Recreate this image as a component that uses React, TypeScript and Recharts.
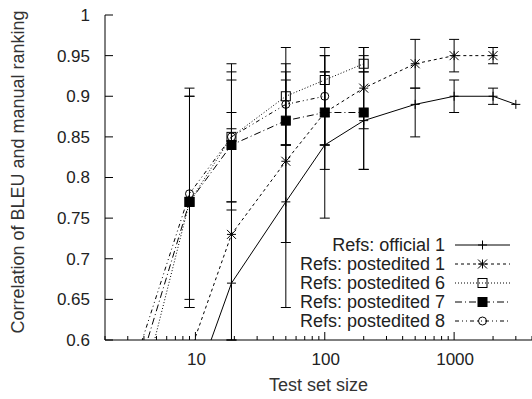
import React from 'react';
import { ComposedChart, ErrorBar, Legend, Line, XAxis, YAxis } from 'recharts';

// test set sizes (x, log scale)
const sizes = [3, 9, 19, 50, 100, 200, 500, 1000, 2000, 3000];

const official1 = [null, 0.526, 0.67, 0.77, 0.84, 0.87, 0.89, 0.9, 0.9, 0.89];
const official1Low = [null, null, 0.45, 0.64, 0.75, 0.81, 0.85, 0.88, 0.89, null];
const official1High = [null, null, 0.86, 0.84, 0.93, 0.93, 0.91, 0.92, 0.91, null];

const postedited1 = [null, 0.583, 0.73, 0.82, 0.88, 0.91, 0.94, 0.95, 0.95, null];
const postedited1Low = [null, null, 0.55, 0.72, 0.81, 0.86, 0.91, 0.93, 0.94, null];
const postedited1High = [null, null, 0.88, 0.92, 0.95, 0.96, 0.97, 0.97, 0.96, null];

const postedited6 = [0.47, 0.77, 0.85, 0.9, 0.92, 0.94, null, null, null, null];
const postedited6Low = [null, 0.64, 0.76, 0.84, 0.88, 0.93, null, null, null, null];
const postedited6High = [null, 0.9, 0.94, 0.96, 0.96, 0.96, null, null, null, null];

const postedited7 = [0.52, 0.77, 0.84, 0.87, 0.88, 0.88, null, null, null, null];
const postedited7Low = [null, 0.64, 0.77, 0.84, 0.84, 0.81, null, null, null, null];
const postedited7High = [null, 0.9, 0.92, 0.93, 0.93, 0.95, null, null, null, null];

const postedited8 = [0.545, 0.78, 0.85, 0.89, 0.9, null, null, null, null, null];
const postedited8Low = [null, 0.65, 0.77, 0.84, 0.84, null, null, null, null, null];
const postedited8High = [null, 0.91, 0.93, 0.94, 0.95, null, null, null, null, null];

const xMajorTicks = [10, 100, 1000];
const xTicks = [
  2, 3, 4, 5, 6, 7, 8, 9, 10, 20, 30, 40, 50, 60, 70, 80, 90, 100, 200, 300, 400, 500, 600, 700, 800, 900,
  1000, 2000, 3000, 4000,
];
const yTicks = [0.6, 0.65, 0.7, 0.75, 0.8, 0.85, 0.9, 0.95, 1];
const yMin = 0.6;

const FONT = '"Liberation Sans", Arial, Helvetica, sans-serif';

type MarkerKind = 'plus' | 'star' | 'box' | 'fbox' | 'circle';

const series: { key: string; name: string; values: (number | null)[]; low: (number | null)[]; high: (number | null)[]; dash?: string; marker: MarkerKind }[] = [
  { key: 'official1', name: 'Refs: official 1', values: official1, low: official1Low, high: official1High, marker: 'plus' },
  { key: 'postedited1', name: 'Refs: postedited 1', values: postedited1, low: postedited1Low, high: postedited1High, dash: '3 3', marker: 'star' },
  { key: 'postedited6', name: 'Refs: postedited 6', values: postedited6, low: postedited6Low, high: postedited6High, dash: '1 2', marker: 'box' },
  { key: 'postedited7', name: 'Refs: postedited 7', values: postedited7, low: postedited7Low, high: postedited7High, dash: '7 3 1 3', marker: 'fbox' },
  { key: 'postedited8', name: 'Refs: postedited 8', values: postedited8, low: postedited8Low, high: postedited8High, dash: '4 3 1 3 1 3', marker: 'circle' },
];

// error bars are not clipped by the chart, so cut them at the bottom of the plot
const rows = sizes.map((size, i) => {
  const row: Record<string, any> = { size };
  series.forEach((s) => {
    const v = s.values[i];
    const lo = s.low[i];
    const hi = s.high[i];
    row[s.key] = v;
    row[s.key + 'Err'] = v != null && lo != null && hi != null ? [v - Math.max(lo, yMin), hi - v] : null;
  });
  return row;
});

function Marker({ kind, cx, cy }: { kind: MarkerKind; cx: number; cy: number }) {
  const s = 4.5;
  if (kind === 'plus') {
    return <path d={`M${cx - s},${cy}H${cx + s}M${cx},${cy - s}V${cy + s}`} stroke="#000" strokeWidth={1} fill="none" />;
  }
  if (kind === 'star') {
    return (
      <path
        d={`M${cx - s},${cy}H${cx + s}M${cx},${cy - s}V${cy + s}M${cx - s},${cy - s}L${cx + s},${cy + s}M${cx - s},${cy + s}L${cx + s},${cy - s}`}
        stroke="#000"
        strokeWidth={1}
        fill="none"
      />
    );
  }
  if (kind === 'box' || kind === 'fbox') {
    return <rect x={cx - s} y={cy - s} width={2 * s} height={2 * s} stroke="#000" strokeWidth={1} fill={kind === 'fbox' ? '#000' : 'none'} />;
  }
  return <circle cx={cx} cy={cy} r={4} stroke="#000" strokeWidth={1} fill="none" />;
}

const dotFor = (kind: MarkerKind, key: string) => (p: any) => {
  if (p.cx == null || p.cy == null || Number.isNaN(p.cx) || Number.isNaN(p.cy) || p.value == null) {
    return <g key={`${key}-${p.index}`} />;
  }
  return (
    <g key={`${key}-${p.index}`}>
      <Marker kind={kind} cx={p.cx} cy={p.cy} />
    </g>
  );
};

const xTick = (side: 'top' | 'bottom') => (p: any) => {
  const v = p.payload.value;
  const major = xMajorTicks.includes(v);
  const len = major ? 8 : 4;
  const dir = side === 'bottom' ? -1 : 1;
  return (
    <g>
      <line x1={p.x} x2={p.x} y1={p.y} y2={p.y + dir * len} stroke="#000" strokeWidth={1} />
      {side === 'bottom' && major && (
        <text x={p.x + 1} y={p.y + 25} textAnchor="middle" fontFamily={FONT} fontSize={17} fill="#222">
          {String(v)}
        </text>
      )}
    </g>
  );
};

const yTick = (side: 'left' | 'right') => (p: any) => {
  const v = p.payload.value;
  const dir = side === 'left' ? 1 : -1;
  return (
    <g>
      <line x1={p.x} x2={p.x + dir * 8} y1={p.y} y2={p.y} stroke="#000" strokeWidth={1} />
      {side === 'left' && (
        <text x={90} y={p.y} dy="0.35em" textAnchor="end" fontFamily={FONT} fontSize={17} fill="#222">
          {String(v)}
        </text>
      )}
    </g>
  );
};

function LegendBox() {
  const rowY = [13, 32, 51, 70, 89];
  return (
    <svg width={232} height={100} style={{ display: 'block' }}>
      {series.map((s, i) => (
        <g key={s.key}>
          <text x={145} y={rowY[i]} dy="0.35em" textAnchor="end" fontFamily={FONT} fontSize={18} fill="#222">
            {s.name}
          </text>
          <line x1={155} x2={210} y1={rowY[i]} y2={rowY[i]} stroke="#000" strokeWidth={1} strokeDasharray={s.dash} />
          <Marker kind={s.marker} cx={182.5} cy={rowY[i]} />
        </g>
      ))}
    </svg>
  );
}

export default function App() {
  return (
    <div style={{ position: 'absolute', left: 0, top: 0, width: 532, height: 399, background: '#fff' }}>
      <ComposedChart width={532} height={399} data={rows} margin={{ top: 15, right: 0, bottom: 0, left: 0 }}>
        <XAxis
          dataKey="size"
          type="number"
          scale="log"
          domain={[2, 4000]}
          allowDataOverflow
          ticks={xTicks}
          interval={0}
          tickSize={0}
          tickMargin={0}
          tickLine={false}
          tick={xTick('bottom')}
          axisLine={{ stroke: '#000', strokeWidth: 1 }}
          height={59}
          label={{
            content: () => (
              <text x={318.5} y={391} textAnchor="middle" fontFamily={FONT} fontSize={18} fill="#333">
                Test set size
              </text>
            ),
          }}
        />
        <XAxis
          xAxisId="top"
          orientation="top"
          dataKey="size"
          type="number"
          scale="log"
          domain={[2, 4000]}
          allowDataOverflow
          ticks={xTicks}
          interval={0}
          tickSize={0}
          tickMargin={0}
          tickLine={false}
          tick={xTick('top')}
          axisLine={{ stroke: '#000', strokeWidth: 1 }}
          height={0}
        />
        <YAxis
          type="number"
          domain={[yMin, 1]}
          allowDataOverflow
          ticks={yTicks}
          interval={0}
          tickSize={0}
          tickMargin={0}
          tickLine={false}
          tick={yTick('left')}
          axisLine={{ stroke: '#000', strokeWidth: 1 }}
          width={105}
          label={{
            content: () => (
              <text x={18} y={172} transform="rotate(-90 18 172)" dy="0.35em" textAnchor="middle" fontFamily={FONT} fontSize={18} fill="#333">
                Correlation of BLEU and manual ranking
              </text>
            ),
          }}
        />
        <YAxis
          yAxisId="right"
          orientation="right"
          type="number"
          domain={[yMin, 1]}
          allowDataOverflow
          ticks={yTicks}
          interval={0}
          tickSize={0}
          tickMargin={0}
          tickLine={false}
          tick={yTick('right')}
          axisLine={{ stroke: '#000', strokeWidth: 1 }}
          width={0}
        />
        {series.map((s) => (
          <Line
            key={s.key}
            dataKey={s.key}
            name={s.name}
            type="linear"
            stroke="#000"
            strokeWidth={1}
            strokeDasharray={s.dash}
            dot={dotFor(s.marker, s.key)}
            activeDot={false}
            isAnimationActive={false}
            legendType="none"
          >
            <ErrorBar dataKey={s.key + 'Err'} direction="y" width={5} stroke="#000" strokeWidth={1} isAnimationActive={false} />
          </Line>
        ))}
        <Legend
          layout="horizontal"
          verticalAlign="middle"
          align="center"
          wrapperStyle={{ left: 300, top: 232, width: 232, height: 100 }}
          content={() => <LegendBox />}
        />
      </ComposedChart>
    </div>
  );
}
